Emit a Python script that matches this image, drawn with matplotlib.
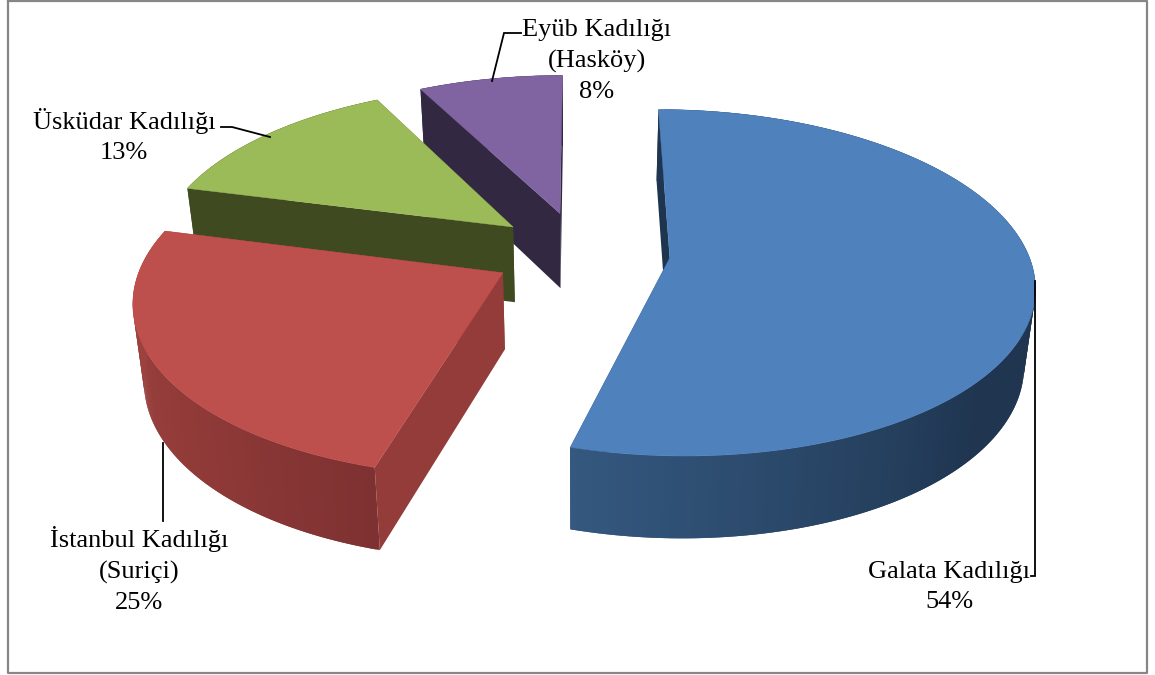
import numpy as np
import matplotlib
matplotlib.use("Agg")
import matplotlib.pyplot as plt
from matplotlib.colors import to_rgb

kadiliklar = ["Galata Kadılığı", "İstanbul Kadılığı\n(Suriçi)", "Üsküdar Kadılığı", "Eyüb Kadılığı\n(Hasköy)"]
yuzdeler = [54.4, 24.6, 13.4, 7.6]
ust_renk = ["#4f81bd", "#bd4f4c", "#9bbb59", "#8064a2"]
yan_renk = ["#1e3550", "#933c39", "#3f4a21", "#322842"]
# arc wall colours, evenly spaced from start to end of the slice (clockwise)
yay_renk = [
    ["#1f3550", "#1f3550", "#1f3550", "#34587f"],
    ["#7e3131", "#8f3a38", "#993f3c", "#a64744"],
    ["#3f4a21", "#3f4a21"],
    ["#322842", "#322842"],
]
patlamalar = [0.252, 0.244, 0.244, 0.244]
# label centre and leader line, in pixels
etiket_yer = [(949, 587), (139, 570), (124, 136), (597, 61)]
cizgiler = [
    [(1035, 281), (1035, 576), (1031, 576)],
    [(163, 443), (163, 521)],
    [(221, 127), (232, 127), (270, 137)],
    [(492, 81), (504, 33), (521, 33)],
]

X0, Y0 = 580, 252
A, B, K = 358, 168, 0.143
DERINLIK = 76


def izdusum(x, y, z=0.0):
    w = 1 + K * y
    px = X0 + A * x / w * (1 - 0.025 * z)
    py = Y0 - B * y / w + DERINLIK * z / w ** 0.5
    return px, py


def dilim_ciz(ax, t1, t2, patlama, ust, yan, yay):
    orta = np.radians((t1 + t2) / 2)
    cx, cy = patlama * np.sin(orta), patlama * np.cos(orta)
    t = np.radians(np.linspace(t1, t2, 181))
    xs, ys = cx + np.sin(t), cy + np.cos(t)

    # radial walls
    for xk, yk in [(xs[0], ys[0]), (xs[-1], ys[-1])]:
        p = [izdusum(cx, cy), izdusum(xk, yk), izdusum(xk, yk, 1), izdusum(cx, cy, 1)]
        ax.fill(*zip(*p), color=yan, lw=0, zorder=2)

    # curved wall, quads overlap so no seams show
    renkler = np.array([to_rgb(c) for c in yay])
    duraklar = np.linspace(0, 1, len(yay))
    for i in range(len(t) - 1):
        f = i / (len(t) - 2)
        renk = [np.interp(f, duraklar, renkler[:, k]) for k in range(3)]
        n = min(i + 2, len(t) - 1)
        p = [izdusum(xs[i], ys[i]), izdusum(xs[n], ys[n]),
             izdusum(xs[n], ys[n], 1), izdusum(xs[i], ys[i], 1)]
        ax.fill(*zip(*p), color=renk, lw=0, zorder=2)

    # top face
    px, py = izdusum(np.r_[cx, xs], np.r_[cy, ys])
    ax.fill(px, py, color=ust, lw=0.3, zorder=2)


fig = plt.figure(figsize=(11.55, 6.75), dpi=100)
ax = fig.add_axes([0, 0, 1, 1])
ax.set_xlim(0, 1155)
ax.set_ylim(675, 0)
ax.axis("off")

ax.plot([8, 1147, 1147, 8, 8], [1, 1, 673, 673, 1], color="#868686", lw=1.6, zorder=1)

sinirlar = np.r_[0, np.cumsum(yuzdeler)] * 3.6
for i in [3, 2, 0, 1]:
    dilim_ciz(ax, sinirlar[i], sinirlar[i + 1], patlamalar[i], ust_renk[i], yan_renk[i], yay_renk[i])

for cizgi in cizgiler:
    ax.plot(*zip(*cizgi), color="black", lw=1.3, zorder=3, solid_joinstyle="miter")

for ad, deger, (x, y) in zip(kadiliklar, yuzdeler, etiket_yer):
    ax.text(x, y, f"{ad}\n{round(deger)}%", ha="center", va="center", family="Liberation Serif",
            fontsize=19, linespacing=1.47, color="black", zorder=4)

fig.savefig("out.png", dpi=100)
